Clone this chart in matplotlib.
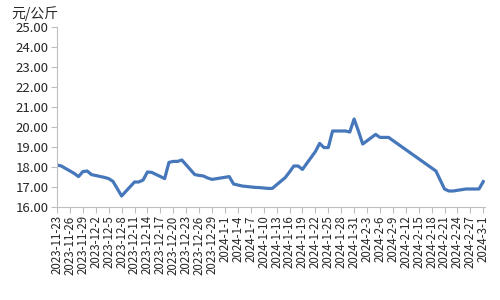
import datetime as dt
import matplotlib
matplotlib.use("Agg")
import matplotlib.pyplot as plt

plt.rcParams['font.family'] = ['Noto Sans CJK SC', 'DejaVu Sans']

dates = [
    "2023-11-23", "2023-11-24", "2023-11-27", "2023-11-28", "2023-11-29", "2023-11-30",
    "2023-12-01", "2023-12-04", "2023-12-05", "2023-12-06", "2023-12-07", "2023-12-08",
    "2023-12-11", "2023-12-12", "2023-12-13", "2023-12-14", "2023-12-15",
    "2023-12-18", "2023-12-19", "2023-12-20", "2023-12-21", "2023-12-22",
    "2023-12-25", "2023-12-26", "2023-12-27", "2023-12-28", "2023-12-29",
    "2024-01-02", "2024-01-03", "2024-01-04", "2024-01-05",
    "2024-01-08", "2024-01-09", "2024-01-10", "2024-01-11", "2024-01-12",
    "2024-01-15", "2024-01-16", "2024-01-17", "2024-01-18", "2024-01-19",
    "2024-01-22", "2024-01-23", "2024-01-24", "2024-01-25", "2024-01-26",
    "2024-01-29", "2024-01-30", "2024-01-31", "2024-02-01", "2024-02-02",
    "2024-02-05", "2024-02-06", "2024-02-07", "2024-02-08",
    "2024-02-19", "2024-02-20", "2024-02-21", "2024-02-22", "2024-02-23",
    "2024-02-26", "2024-02-27", "2024-02-28", "2024-02-29", "2024-03-01",
]
prices = [
    18.10, 18.05, 17.68, 17.52, 17.77, 17.80,
    17.62, 17.48, 17.42, 17.28, 16.92, 16.55,
    17.25, 17.25, 17.35, 17.75, 17.73,
    17.42, 18.23, 18.28, 18.28, 18.35,
    17.62, 17.58, 17.55, 17.45, 17.38,
    17.52, 17.15, 17.10, 17.05,
    16.98, 16.97, 16.95, 16.93, 16.93,
    17.47, 17.75, 18.05, 18.05, 17.88,
    18.77, 19.18, 18.97, 18.97, 19.80,
    19.80, 19.75, 20.40, 19.80, 19.15,
    19.63, 19.48, 19.48, 19.48,
    17.80, 17.35, 16.90, 16.80, 16.80,
    16.90, 16.90, 16.90, 16.90, 17.27,
]
y_ticks = [16, 17, 18, 19, 20, 21, 22, 23, 24, 25]
unit_label = "元/公斤"
tick_start = "2023-11-23"
tick_end = "2024-03-01"
tick_step_days = 3

x = [dt.datetime.strptime(d, "%Y-%m-%d") for d in dates]
t0 = dt.datetime.strptime(tick_start, "%Y-%m-%d")
t1 = dt.datetime.strptime(tick_end, "%Y-%m-%d")
ticks = []
t = t0
while t <= t1:
    ticks.append(t)
    t += dt.timedelta(days=tick_step_days)
tick_labels = [f"{d.year}-{d.month}-{d.day}" for d in ticks]

fig = plt.figure(figsize=(5, 3), dpi=100)
ax = fig.add_axes([0.114, 0.31, 0.856, 0.60])
ax.plot(x, prices, color="#4677BA", linewidth=2.3, solid_joinstyle="round")

ax.set_ylim(16, 25)
ax.set_yticks(y_ticks)
ax.set_yticklabels([f"{v:.2f}" for v in y_ticks], fontsize=9.5, color="#262626")
ax.set_xlim(t0, t1 + dt.timedelta(days=0.4))
ax.set_xticks(ticks)
ax.set_xticklabels(tick_labels, rotation=90, fontsize=8.3, color="#262626")

for s in ["top", "right"]:
    ax.spines[s].set_visible(False)
for s in ["left", "bottom"]:
    ax.spines[s].set_color("#BFBFBF")
    ax.spines[s].set_linewidth(0.8)
ax.tick_params(axis="both", length=4, width=0.8, color="#BFBFBF", pad=2)

fig.text(0.022, 0.955, unit_label, fontsize=10, color="#262626", va="center", ha="left")

fig.savefig("out.png", dpi=100)
